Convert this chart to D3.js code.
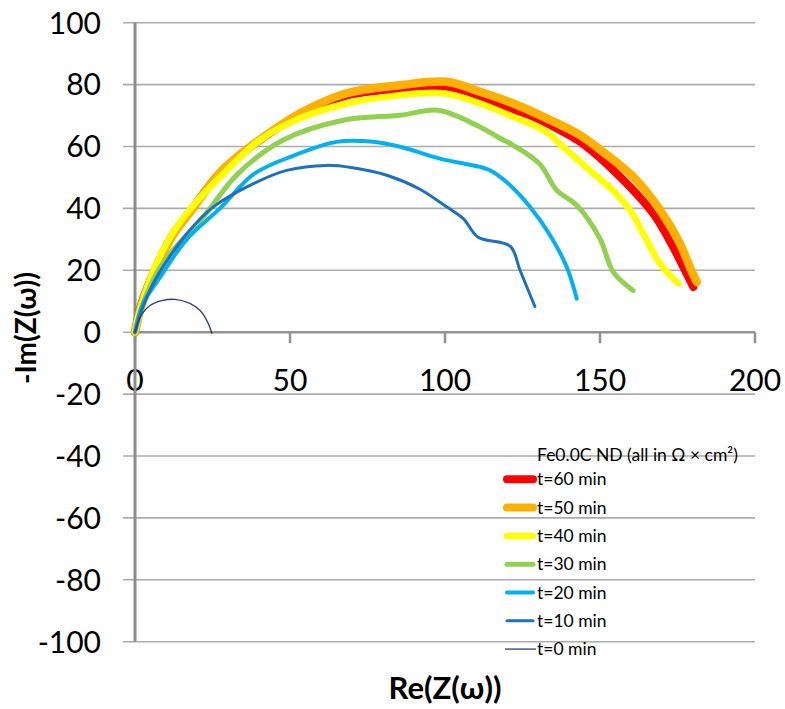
<!DOCTYPE html>
<html>
<head>
<meta charset="utf-8">
<script src="https://cdn.jsdelivr.net/npm/d3@7"></script>
<style>
  body{margin:0;background:#fff;}
  svg text{font-family:Lato,"Open Sans",sans-serif;fill:#000;}
</style>
</head>
<body>
<div class="graph"></div>
<script>
(function(){
  // Nyquist data, [Re, -Im] pairs (ohm cm2)
  let t60 = [[0,0],[2,9],[6.3,20],[11.8,31],[18.5,40],[27.2,51.3],[37.8,60.3],[53.2,70.2],[68.3,76.5],
             [85.5,78.6],[100.5,79.3],[111.3,76.3],[120,72.5],[127.4,70.1],[138.2,64.7],[145,60.5],
             [156.5,50.2],[167.2,38.3],[173.6,27.5],[176.9,21],[180.1,14.6]];
  let t50 = [[0,0],[2.2,9],[6.5,20],[12,31],[18.7,40],[27.4,51.5],[38,60.5],[53.2,70.7],[68.3,77.2],
             [85.5,79.8],[100.5,80.9],[111.3,77.7],[122,73.9],[132.8,69.1],[143.5,63.7],[150,59],
             [160.7,50.2],[169.4,39.4],[175.8,28.6],[179,21],[181.2,16.2]];
  let t40 = [[0,0],[2,8.5],[6,20],[11.5,31],[18,40],[29.6,52.3],[40.3,62.1],[53.2,69.1],[68.3,73.9],
             [85.5,76.6],[99.5,77.2],[111.3,73.9],[122,69.6],[132.8,64.7],[138,60],[147,52],
             [155,45],[160,39],[164,31.8],[169.4,22.1],[175.3,15.7]];
  let t30 = [[0,0],[2.5,9],[7.5,20],[11.3,25.4],[22,37.2],[33,51],[47.8,62.1],[67.2,68.5],[85.5,70.1],
             [97.8,71.7],[111.3,66.3],[118,62.5],[122,60.4],[130.6,54.3],[136,45.9],[142.5,41],
             [150,30.2],[154.3,19.4],[160.7,13.5]];
  let t20 = [[0,0],[2.5,9],[8.1,17.8],[16.7,30],[27.4,40],[38.5,51.2],[51,57],[65,61.5],[76.9,61.5],
             [85.5,59.9],[98.4,56.1],[111.3,53.4],[114.5,52.3],[121,47.5],[127.4,40.5],[133.9,31.3],
             [139.3,21],[142.5,10.8]];
  let t10 = [[0,0],[2.5,8],[7,17.8],[16.7,31.8],[25.3,40.5],[38.2,48],[48.9,52.3],[61.8,53.9],[70.3,53.1],
             [81.2,50.7],[91.9,46.2],[100.5,40.5],[105.9,36.7],[110.7,30.7],[121,27.8],[124.2,20],[129,8.3]];
  let t0  = [[0,0],[1.6,4.7],[4.8,8.6],[9,10.3],[12.9,10.6],[17.7,9.3],[21,7],[23.5,3.1],[24.8,-0.4]];

  let seriesData = [t60,t50,t40,t30,t20,t10,t0];
  let seriesLabels = ["t=60 min","t=50 min","t=40 min","t=30 min","t=20 min","t=10 min","t=0 min"];
  let legendTitle = "Fe0.0C ND (all in \u03A9 \u00D7 cm\u00B2)";
  let xTicks = [0,50,100,150,200];
  let yTicks = [100,80,60,40,20,0,-20,-40,-60,-80,-100];

  // line styles, same order as the series
  let colors = ["#ff0000","#ffb000","#ffff00","#92d050","#00b0f0","#1f6fbf","#2a3f80"];
  let widths = [8,8.5,6.5,5,4,3,1.3];

  let WIDTH = 785, HEIGHT = 709;

  let svg = d3.select("div.graph").append("svg")
      .attr("width",WIDTH)
      .attr("height",HEIGHT);

  let x = d3.scaleLinear().domain([0,200]).range([135,755]);
  let y = d3.scaleLinear().domain([-100,100]).range([641.7,22.7]);

  // horizontal gridlines (they poke out left of the axis like ticks)
  svg.append("g")
    .selectAll("line")
    .data(yTicks)
    .enter()
    .append("line")
    .attr("x1",123).attr("x2",x(200))
    .attr("y1",d=>y(d)).attr("y2",d=>y(d))
    .attr("stroke","#acacac")
    .attr("stroke-width",1.6);

  svg.append("g")
    .selectAll("text")
    .data(yTicks)
    .enter()
    .append("text")
    .attr("x",101)
    .attr("y",d=>y(d))
    .attr("dy","0.36em")
    .attr("text-anchor","end")
    .style("font-size","30px")
    .text(d=>d);

  // x axis sits on y=0, ticks hang down
  let xAxis = svg.append("g");
  xAxis.append("line")
    .attr("x1",x(0)).attr("x2",x(200))
    .attr("y1",y(0)).attr("y2",y(0))
    .attr("stroke","#939393")
    .attr("stroke-width",2.5);
  xAxis.selectAll("line.tick")
    .data(xTicks)
    .enter()
    .append("line")
    .classed("tick",true)
    .attr("x1",d=>x(d)).attr("x2",d=>x(d))
    .attr("y1",y(0)).attr("y2",y(0)+11)
    .attr("stroke","#939393")
    .attr("stroke-width",2.5);
  xAxis.selectAll("text")
    .data(xTicks)
    .enter()
    .append("text")
    .attr("x",d=>x(d))
    .attr("y",y(0)+48)
    .attr("dy","0.36em")
    .attr("text-anchor","middle")
    .style("font-size","30px")
    .text(d=>d);

  svg.append("line")
    .attr("x1",x(0)).attr("x2",x(0))
    .attr("y1",y(100)).attr("y2",y(-100))
    .attr("stroke","#8c8c8c")
    .attr("stroke-width",3);

  let line = d3.line()
      .x(d=>x(d[0]))
      .y(d=>y(d[1]))
      .curve(d3.curveCatmullRom.alpha(0.5));

  svg.append("g")
    .selectAll("path")
    .data(seriesData)
    .enter()
    .append("path")
    .attr("d",line)
    .attr("fill","none")
    .attr("stroke",(d,i)=>colors[i])
    .attr("stroke-width",(d,i)=>widths[i])
    .attr("stroke-linecap","round")
    .attr("stroke-linejoin","round");

  // legend, no box
  let legend = svg.append("g");
  legend.append("text")
    .attr("x",537).attr("y",455)
    .attr("dy","0.35em")
    .style("font-size","17.5px")
    .text(legendTitle);
  let items = legend.selectAll("g.item")
      .data(seriesLabels)
      .enter()
      .append("g")
      .classed("item",true)
      .attr("transform",(d,i)=>"translate(0,"+(479.3+28.3*i)+")");
  items.append("line")
    .attr("x1",(d,i)=>widths[i]>2?507:505).attr("x2",(d,i)=>widths[i]>2?533:536)
    .attr("stroke",(d,i)=>colors[i])
    .attr("stroke-width",(d,i)=>Math.min(widths[i],8))
    .attr("stroke-linecap",(d,i)=>widths[i]>2?"round":"butt");
  items.append("text")
    .attr("x",537)
    .attr("dy","0.35em")
    .style("font-size","17.5px")
    .text(d=>d);

  svg.append("text")
    .attr("transform","translate(36,328) rotate(-90)")
    .attr("text-anchor","middle")
    .style("font-size","28px")
    .style("font-weight","bold")
    .text("-Im(Z(\u03C9))");

  svg.append("text")
    .attr("x",445).attr("y",699)
    .attr("text-anchor","middle")
    .style("font-size","31px")
    .style("font-weight","bold")
    .text("Re(Z(\u03C9))");
})();
</script>
</body>
</html>
